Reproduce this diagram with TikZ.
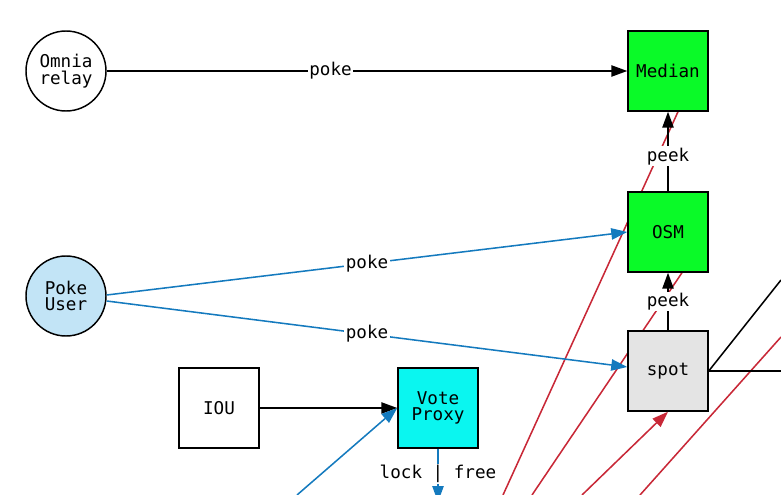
\documentclass[tikz,border=0pt]{standalone}
\usepackage{xcolor}
\usepackage{tikz}
\usepackage{fontspec}
\setmonofont{DejaVu Sans Mono}
\usetikzlibrary{arrows.meta}
\definecolor{boxgreen}{RGB}{10,250,40}
\definecolor{boxcyan}{RGB}{10,246,240}
\definecolor{boxgray}{RGB}{228,228,228}
\definecolor{userblue}{RGB}{194,228,246}
\definecolor{edgeblue}{RGB}{20,122,190}
\definecolor{edgered}{RGB}{200,40,55}
\pgfdeclarelayer{background}
\pgfsetlayers{background,main}

\begin{document}
\begin{tikzpicture}[x=0.75pt,y=-0.75pt,
    font=\ttfamily\fontsize{13.2}{12.5}\selectfont,
    agent/.style={shape=circle, draw, line width=1.1pt, minimum size=60pt, inner sep=0pt, align=center},
    contract/.style={shape=rectangle, draw, line width=1.1pt, minimum size=60pt, inner sep=0pt, align=center},
    flow/.style={line width=1.15pt, -{Triangle[length=12pt,width=8.5pt]}},
    lbl/.style={fill=white, inner sep=1pt}]
    \useasboundingbox (0,0) rectangle (781,495);
    \clip (0,0) rectangle (781,495);

    \node[agent] (omnia) at (66,71) {Omnia\\relay};
    \node[agent, fill=userblue] (pokeuser) at (66,296) {Poke\\User};
    \node[contract, fill=boxgreen] (median) at (668,71) {Median};
    \node[contract, fill=boxgreen] (osm) at (668,232) {OSM};
    \node[contract, fill=boxgray] (spot) at (668,371) {spot};
    \node[contract] (iou) at (219,408) {IOU};
    \node[contract, fill=boxcyan] (voteproxy) at (438,408) {Vote\\Proxy};

    \coordinate (redA) at (503,495);
    \coordinate (redB) at (532,495);
    \coordinate (redC) at (582,495);
    \coordinate (redD) at (640,495);
    \coordinate (redE) at (781,337);
    \coordinate (catA) at (781,280);
    \coordinate (catB) at (781,371);
    \coordinate (blueA) at (297,495);
    \coordinate (vpout) at (438,502);

    % lines that pass behind the boxes
    \begin{pgfonlayer}{background}
    \draw[edgered, line width=1.15pt] (redA) -- ([xshift=7.5pt]median.south);
    \draw[edgered, line width=1.15pt] (redB) -- ([xshift=10.5pt]osm.south);
    \draw[edgered, line width=1.15pt] (redD) -- (redE);
    \end{pgfonlayer}
    \draw[flow, edgered] (redC) -- (spot.south);

    \draw[flow] (omnia) -- (median) node[lbl, pos=0.43] {poke};
    \draw[flow] (osm) -- (median) node[lbl, pos=0.44] {peek};
    \draw[flow] (spot) -- (osm) node[lbl, pos=0.5] {peek};
    \draw[flow, edgeblue] ([yshift=0.75pt]pokeuser.east) -- (osm.west) node[lbl, text=black, pos=0.5] {poke};
    \draw[flow, edgeblue] ([yshift=-3.75pt]pokeuser.east) -- ([yshift=3pt]spot.west) node[lbl, text=black, pos=0.5] {poke};
    \draw[flow] (iou) -- (voteproxy);
    \draw[flow, edgeblue] (blueA) -- (voteproxy.west);
    \draw[flow, edgeblue] (voteproxy) -- (vpout) node[lbl, text=black, pos=0.48] {lock | free};

    \draw[line width=1.15pt] (spot.east) -- (catA);
    \draw[line width=1.15pt] (spot.east) -- (catB);
\end{tikzpicture}
\end{document}
